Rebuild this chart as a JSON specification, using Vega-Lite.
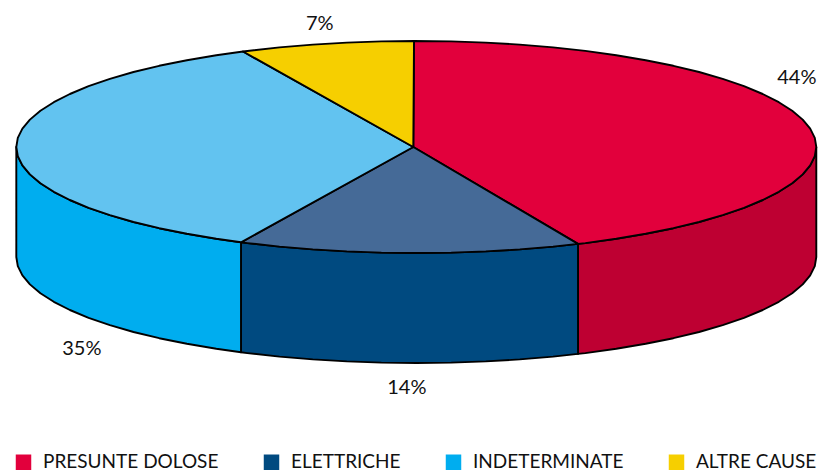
{"$schema":"https://vega.github.io/schema/vega-lite/v6.json","width":831,"height":472,"padding":0,"autosize":{"type":"none"},"background":"white","view":{"stroke":null},
"layer":[
{"data":{"values":[
{"s":"presunte lato","o":0,"x":400,"y":0},{"s":"presunte lato","o":1,"x":398.5,"y":-9.2},{"s":"presunte lato","o":2,"x":393.9,"y":-18.4},{"s":"presunte lato","o":3,"x":386.4,"y":-27.4},{"s":"presunte lato","o":4,"x":375.9,"y":-36.3},{"s":"presunte lato","o":5,"x":362.5,"y":-44.8},{"s":"presunte lato","o":6,"x":346.4,"y":-53},{"s":"presunte lato","o":7,"x":327.7,"y":-60.8},{"s":"presunte lato","o":8,"x":306.4,"y":-68.1},{"s":"presunte lato","o":9,"x":282.8,"y":-75},{"s":"presunte lato","o":10,"x":257.1,"y":-81.2},{"s":"presunte lato","o":11,"x":229.4,"y":-86.8},{"s":"presunte lato","o":12,"x":200,"y":-91.8},{"s":"presunte lato","o":13,"x":169,"y":-96.1},{"s":"presunte lato","o":14,"x":161.7,"y":-96.9},{"s":"presunte lato","o":15,"x":161.7,"y":-206.9},{"s":"presunte lato","o":16,"x":169,"y":-206.1},{"s":"presunte lato","o":17,"x":200,"y":-201.8},{"s":"presunte lato","o":18,"x":229.4,"y":-196.8},{"s":"presunte lato","o":19,"x":257.1,"y":-191.2},{"s":"presunte lato","o":20,"x":282.8,"y":-185},{"s":"presunte lato","o":21,"x":306.4,"y":-178.1},{"s":"presunte lato","o":22,"x":327.7,"y":-170.8},{"s":"presunte lato","o":23,"x":346.4,"y":-163},{"s":"presunte lato","o":24,"x":362.5,"y":-154.8},{"s":"presunte lato","o":25,"x":375.9,"y":-146.3},{"s":"presunte lato","o":26,"x":386.4,"y":-137.4},{"s":"presunte lato","o":27,"x":393.9,"y":-128.4},{"s":"presunte lato","o":28,"x":398.5,"y":-119.2},{"s":"presunte lato","o":29,"x":400,"y":-110},{"s":"presunte lato","o":30,"x":400,"y":0},
{"s":"ELETTRICHE","o":0,"x":161.7,"y":-96.9},{"s":"ELETTRICHE","o":1,"x":136.8,"y":-99.6},{"s":"ELETTRICHE","o":2,"x":103.5,"y":-102.4},{"s":"ELETTRICHE","o":3,"x":69.5,"y":-104.4},{"s":"ELETTRICHE","o":4,"x":34.9,"y":-105.6},{"s":"ELETTRICHE","o":5,"x":0,"y":-106},{"s":"ELETTRICHE","o":6,"x":-34.9,"y":-105.6},{"s":"ELETTRICHE","o":7,"x":-69.5,"y":-104.4},{"s":"ELETTRICHE","o":8,"x":-103.5,"y":-102.4},{"s":"ELETTRICHE","o":9,"x":-136.8,"y":-99.6},{"s":"ELETTRICHE","o":10,"x":-169,"y":-96.1},{"s":"ELETTRICHE","o":11,"x":-175.3,"y":-95.3},{"s":"ELETTRICHE","o":12,"x":-175.3,"y":-205.3},{"s":"ELETTRICHE","o":13,"x":-169,"y":-206.1},{"s":"ELETTRICHE","o":14,"x":-136.8,"y":-209.6},{"s":"ELETTRICHE","o":15,"x":-103.5,"y":-212.4},{"s":"ELETTRICHE","o":16,"x":-69.5,"y":-214.4},{"s":"ELETTRICHE","o":17,"x":-34.9,"y":-215.6},{"s":"ELETTRICHE","o":18,"x":0,"y":-216},{"s":"ELETTRICHE","o":19,"x":34.9,"y":-215.6},{"s":"ELETTRICHE","o":20,"x":69.5,"y":-214.4},{"s":"ELETTRICHE","o":21,"x":103.5,"y":-212.4},{"s":"ELETTRICHE","o":22,"x":136.8,"y":-209.6},{"s":"ELETTRICHE","o":23,"x":161.7,"y":-206.9},{"s":"ELETTRICHE","o":24,"x":161.7,"y":-96.9},
{"s":"INDETERMINATE","o":0,"x":-175.3,"y":-95.3},{"s":"INDETERMINATE","o":1,"x":-200,"y":-91.8},{"s":"INDETERMINATE","o":2,"x":-229.4,"y":-86.8},{"s":"INDETERMINATE","o":3,"x":-257.1,"y":-81.2},{"s":"INDETERMINATE","o":4,"x":-282.8,"y":-75},{"s":"INDETERMINATE","o":5,"x":-306.4,"y":-68.1},{"s":"INDETERMINATE","o":6,"x":-327.7,"y":-60.8},{"s":"INDETERMINATE","o":7,"x":-346.4,"y":-53},{"s":"INDETERMINATE","o":8,"x":-362.5,"y":-44.8},{"s":"INDETERMINATE","o":9,"x":-375.9,"y":-36.3},{"s":"INDETERMINATE","o":10,"x":-386.4,"y":-27.4},{"s":"INDETERMINATE","o":11,"x":-393.9,"y":-18.4},{"s":"INDETERMINATE","o":12,"x":-398.5,"y":-9.2},{"s":"INDETERMINATE","o":13,"x":-400,"y":0},{"s":"INDETERMINATE","o":14,"x":-400,"y":-110},{"s":"INDETERMINATE","o":15,"x":-398.5,"y":-119.2},{"s":"INDETERMINATE","o":16,"x":-393.9,"y":-128.4},{"s":"INDETERMINATE","o":17,"x":-386.4,"y":-137.4},{"s":"INDETERMINATE","o":18,"x":-375.9,"y":-146.3},{"s":"INDETERMINATE","o":19,"x":-362.5,"y":-154.8},{"s":"INDETERMINATE","o":20,"x":-346.4,"y":-163},{"s":"INDETERMINATE","o":21,"x":-327.7,"y":-170.8},{"s":"INDETERMINATE","o":22,"x":-306.4,"y":-178.1},{"s":"INDETERMINATE","o":23,"x":-282.8,"y":-185},{"s":"INDETERMINATE","o":24,"x":-257.1,"y":-191.2},{"s":"INDETERMINATE","o":25,"x":-229.4,"y":-196.8},{"s":"INDETERMINATE","o":26,"x":-200,"y":-201.8},{"s":"INDETERMINATE","o":27,"x":-175.3,"y":-205.3},{"s":"INDETERMINATE","o":28,"x":-175.3,"y":-95.3},
{"s":"PRESUNTE DOLOSE","o":0,"x":-3,"y":0},{"s":"PRESUNTE DOLOSE","o":1,"x":-2.3,"y":106},{"s":"PRESUNTE DOLOSE","o":2,"x":34.9,"y":105.6},{"s":"PRESUNTE DOLOSE","o":3,"x":69.5,"y":104.4},{"s":"PRESUNTE DOLOSE","o":4,"x":103.5,"y":102.4},{"s":"PRESUNTE DOLOSE","o":5,"x":136.8,"y":99.6},{"s":"PRESUNTE DOLOSE","o":6,"x":169,"y":96.1},{"s":"PRESUNTE DOLOSE","o":7,"x":200,"y":91.8},{"s":"PRESUNTE DOLOSE","o":8,"x":229.4,"y":86.8},{"s":"PRESUNTE DOLOSE","o":9,"x":257.1,"y":81.2},{"s":"PRESUNTE DOLOSE","o":10,"x":282.8,"y":75},{"s":"PRESUNTE DOLOSE","o":11,"x":306.4,"y":68.1},{"s":"PRESUNTE DOLOSE","o":12,"x":327.7,"y":60.8},{"s":"PRESUNTE DOLOSE","o":13,"x":346.4,"y":53},{"s":"PRESUNTE DOLOSE","o":14,"x":362.5,"y":44.8},{"s":"PRESUNTE DOLOSE","o":15,"x":375.9,"y":36.3},{"s":"PRESUNTE DOLOSE","o":16,"x":386.4,"y":27.4},{"s":"PRESUNTE DOLOSE","o":17,"x":393.9,"y":18.4},{"s":"PRESUNTE DOLOSE","o":18,"x":398.5,"y":9.2},{"s":"PRESUNTE DOLOSE","o":19,"x":400,"y":0},{"s":"PRESUNTE DOLOSE","o":20,"x":398.5,"y":-9.2},{"s":"PRESUNTE DOLOSE","o":21,"x":393.9,"y":-18.4},{"s":"PRESUNTE DOLOSE","o":22,"x":386.4,"y":-27.4},{"s":"PRESUNTE DOLOSE","o":23,"x":375.9,"y":-36.3},{"s":"PRESUNTE DOLOSE","o":24,"x":362.5,"y":-44.8},{"s":"PRESUNTE DOLOSE","o":25,"x":346.4,"y":-53},{"s":"PRESUNTE DOLOSE","o":26,"x":327.7,"y":-60.8},{"s":"PRESUNTE DOLOSE","o":27,"x":306.4,"y":-68.1},{"s":"PRESUNTE DOLOSE","o":28,"x":282.8,"y":-75},{"s":"PRESUNTE DOLOSE","o":29,"x":257.1,"y":-81.2},{"s":"PRESUNTE DOLOSE","o":30,"x":229.4,"y":-86.8},{"s":"PRESUNTE DOLOSE","o":31,"x":200,"y":-91.8},{"s":"PRESUNTE DOLOSE","o":32,"x":169,"y":-96.1},{"s":"PRESUNTE DOLOSE","o":33,"x":161.7,"y":-96.9},{"s":"PRESUNTE DOLOSE","o":34,"x":-3,"y":0},
{"s":"elettriche sup","o":0,"x":-3,"y":0},{"s":"elettriche sup","o":1,"x":161.7,"y":-96.9},{"s":"elettriche sup","o":2,"x":136.8,"y":-99.6},{"s":"elettriche sup","o":3,"x":103.5,"y":-102.4},{"s":"elettriche sup","o":4,"x":69.5,"y":-104.4},{"s":"elettriche sup","o":5,"x":34.9,"y":-105.6},{"s":"elettriche sup","o":6,"x":0,"y":-106},{"s":"elettriche sup","o":7,"x":-34.9,"y":-105.6},{"s":"elettriche sup","o":8,"x":-69.5,"y":-104.4},{"s":"elettriche sup","o":9,"x":-103.5,"y":-102.4},{"s":"elettriche sup","o":10,"x":-136.8,"y":-99.6},{"s":"elettriche sup","o":11,"x":-169,"y":-96.1},{"s":"elettriche sup","o":12,"x":-175.3,"y":-95.3},{"s":"elettriche sup","o":13,"x":-3,"y":0},
{"s":"indeterminate sup","o":0,"x":-3,"y":0},{"s":"indeterminate sup","o":1,"x":-175.3,"y":-95.3},{"s":"indeterminate sup","o":2,"x":-200,"y":-91.8},{"s":"indeterminate sup","o":3,"x":-229.4,"y":-86.8},{"s":"indeterminate sup","o":4,"x":-257.1,"y":-81.2},{"s":"indeterminate sup","o":5,"x":-282.8,"y":-75},{"s":"indeterminate sup","o":6,"x":-306.4,"y":-68.1},{"s":"indeterminate sup","o":7,"x":-327.7,"y":-60.8},{"s":"indeterminate sup","o":8,"x":-346.4,"y":-53},{"s":"indeterminate sup","o":9,"x":-362.5,"y":-44.8},{"s":"indeterminate sup","o":10,"x":-375.9,"y":-36.3},{"s":"indeterminate sup","o":11,"x":-386.4,"y":-27.4},{"s":"indeterminate sup","o":12,"x":-393.9,"y":-18.4},{"s":"indeterminate sup","o":13,"x":-398.5,"y":-9.2},{"s":"indeterminate sup","o":14,"x":-400,"y":0},{"s":"indeterminate sup","o":15,"x":-398.5,"y":9.2},{"s":"indeterminate sup","o":16,"x":-393.9,"y":18.4},{"s":"indeterminate sup","o":17,"x":-386.4,"y":27.4},{"s":"indeterminate sup","o":18,"x":-375.9,"y":36.3},{"s":"indeterminate sup","o":19,"x":-362.5,"y":44.8},{"s":"indeterminate sup","o":20,"x":-346.4,"y":53},{"s":"indeterminate sup","o":21,"x":-327.7,"y":60.8},{"s":"indeterminate sup","o":22,"x":-306.4,"y":68.1},{"s":"indeterminate sup","o":23,"x":-282.8,"y":75},{"s":"indeterminate sup","o":24,"x":-257.1,"y":81.2},{"s":"indeterminate sup","o":25,"x":-229.4,"y":86.8},{"s":"indeterminate sup","o":26,"x":-200,"y":91.8},{"s":"indeterminate sup","o":27,"x":-173.3,"y":95.5},{"s":"indeterminate sup","o":28,"x":-3,"y":0},
{"s":"ALTRE CAUSE","o":0,"x":-3,"y":0},{"s":"ALTRE CAUSE","o":1,"x":-173.3,"y":95.5},{"s":"ALTRE CAUSE","o":2,"x":-136.8,"y":99.6},{"s":"ALTRE CAUSE","o":3,"x":-103.5,"y":102.4},{"s":"ALTRE CAUSE","o":4,"x":-69.5,"y":104.4},{"s":"ALTRE CAUSE","o":5,"x":-34.9,"y":105.6},{"s":"ALTRE CAUSE","o":6,"x":-2.3,"y":106},{"s":"ALTRE CAUSE","o":7,"x":-3,"y":0}
]},
"mark":{"type":"line","stroke":"#000000","strokeWidth":1.9,"strokeJoin":"round","clip":false},
"encoding":{
"x":{"field":"x","type":"quantitative","scale":{"domain":[-416.3,414.7]},"axis":null},
"y":{"field":"y","type":"quantitative","scale":{"domain":[-325,147]},"axis":null},
"order":{"field":"o","type":"quantitative"},
"detail":{"field":"s"},
"fill":{"field":"s","type":"nominal","scale":{"domain":["PRESUNTE DOLOSE","ELETTRICHE","INDETERMINATE","ALTRE CAUSE","presunte lato","elettriche sup","indeterminate sup"],"range":["#E2003C","#004A80","#00ADEF","#F6CF00","#BE0032","#456A97","#62C3F0"]},
"legend":{"values":["PRESUNTE DOLOSE","ELETTRICHE","INDETERMINATE","ALTRE CAUSE"],"title":null,"orient":"none","legendX":14,"legendY":452.5,"direction":"horizontal","columns":4,"columnPadding":43,"symbolType":"square","symbolSize":240,"symbolStrokeWidth":0,"symbolStrokeColor":"transparent","labelFont":"Lato","labelFontSize":19,"labelColor":"#111111","labelOffset":10,"labelLimit":300}}
}},
{"data":{"values":[
{"etichetta":"44%","x":380.5,"y":69},
{"etichetta":"14%","x":-9.5,"y":-241},
{"etichetta":"35%","x":-334.5,"y":-202},
{"etichetta":"7%","x":-96.5,"y":123}
]},
"mark":{"type":"text","font":"Lato","fontSize":20,"color":"#111111","baseline":"middle","align":"center"},
"encoding":{
"x":{"field":"x","type":"quantitative","scale":{"domain":[-416.3,414.7]},"axis":null},
"y":{"field":"y","type":"quantitative","scale":{"domain":[-325,147]},"axis":null},
"text":{"field":"etichetta"}
}}
]}
